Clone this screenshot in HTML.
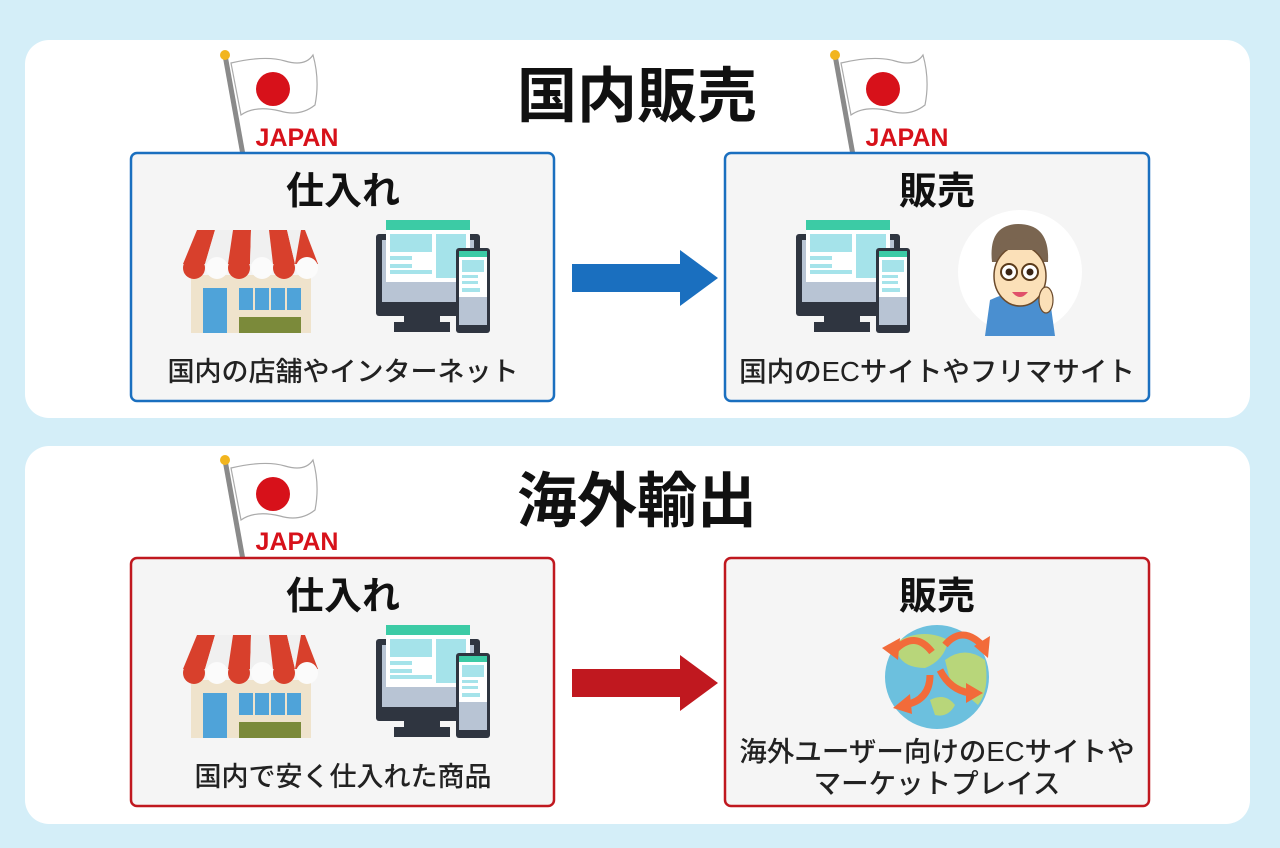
<!DOCTYPE html>
<html><head><meta charset="utf-8"><style>
html,body{margin:0;padding:0;background:#d4eef8;}
svg{display:block;}
text{font-family:"Liberation Sans","Noto Sans CJK JP",sans-serif;}
</style></head><body>
<svg width="1280" height="848" viewBox="0 0 1280 848" xmlns="http://www.w3.org/2000/svg">
<defs>
<g id="flag">
  <line x1="0" y1="0" x2="18" y2="100" stroke="#8a8a8a" stroke-width="5"/>
  <circle cx="0" cy="0" r="5" fill="#f2b51e"/>
  <path d="M6 8 Q40 0 60 6 Q80 12 88 0 Q95 25 90 50 Q75 62 55 56 Q30 50 16 60 Z" fill="#fff" stroke="#aaa" stroke-width="1.2"/>
  <circle cx="48" cy="34" r="17" fill="#d7111a"/>
</g>
<g id="shop">
  <rect x="8" y="45" width="120" height="58" fill="#efe3cc"/>
  <path d="M14 0 H32 L22 34 H0 Z" fill="#d8402c"/>
  <path d="M32 0 H50 L45 34 H22 Z" fill="#f0f0f0"/>
  <path d="M50 0 H68 L67 34 H45 Z" fill="#d8402c"/>
  <path d="M68 0 H86 L90 34 H67 Z" fill="#f0f0f0"/>
  <path d="M86 0 H104 L112 34 H90 Z" fill="#d8402c"/>
  <path d="M104 0 H122 L135 34 H112 Z" fill="#f0f0f0"/>
  <path d="M112 34 L135 34 L122 0 H118 Z" fill="#d8402c"/>
  <circle cx="11" cy="38" r="11" fill="#d8402c"/>
  <circle cx="34" cy="38" r="11" fill="#fbfbfb"/>
  <circle cx="56" cy="38" r="11" fill="#d8402c"/>
  <circle cx="79" cy="38" r="11" fill="#fbfbfb"/>
  <circle cx="101" cy="38" r="11" fill="#d8402c"/>
  <circle cx="124" cy="38" r="11" fill="#fbfbfb"/>
  <rect x="20" y="58" width="24" height="45" fill="#4fa3d9"/>
  <rect x="56" y="58" width="62" height="22" fill="#4fa3d9"/>
  <line x1="71" y1="58" x2="71" y2="80" stroke="#efe3cc" stroke-width="2"/>
  <line x1="87" y1="58" x2="87" y2="80" stroke="#efe3cc" stroke-width="2"/>
  <line x1="103" y1="58" x2="103" y2="80" stroke="#efe3cc" stroke-width="2"/>
  <rect x="56" y="87" width="62" height="16" fill="#7b8a3a"/>
</g>
<g id="pc">
  <rect x="0" y="14" width="104" height="82" rx="3" fill="#2f3540"/>
  <rect x="6" y="20" width="92" height="62" fill="#b8c4d4"/>
  <rect x="10" y="0" width="84" height="10" fill="#3ccba5"/>
  <rect x="10" y="10" width="84" height="52" fill="#fff"/>
  <rect x="14" y="14" width="42" height="18" fill="#a5e3ea"/>
  <rect x="60" y="14" width="30" height="44" fill="#a5e3ea"/>
  <rect x="14" y="36" width="22" height="4" fill="#a5e3ea"/>
  <rect x="14" y="44" width="22" height="4" fill="#a5e3ea"/>
  <rect x="14" y="50" width="42" height="4" fill="#a5e3ea"/>
  <rect x="28" y="96" width="36" height="6" fill="#2f3540"/>
  <rect x="18" y="102" width="56" height="10" fill="#2f3540"/>
  <rect x="80" y="28" width="34" height="85" rx="3" fill="#2f3540"/>
  <rect x="83" y="31" width="28" height="74" fill="#b8c4d4"/>
  <rect x="83" y="31" width="28" height="6" fill="#3ccba5"/>
  <rect x="83" y="37" width="28" height="40" fill="#fff"/>
  <rect x="86" y="40" width="22" height="12" fill="#a5e3ea"/>
  <rect x="86" y="55" width="16" height="3" fill="#a5e3ea"/>
  <rect x="86" y="61" width="16" height="3" fill="#a5e3ea"/>
  <rect x="86" y="68" width="18" height="4" fill="#a5e3ea"/>
</g>
</defs>

<rect x="25" y="40" width="1225" height="378" rx="24" fill="#fff"/>
<rect x="25" y="446" width="1225" height="378" rx="24" fill="#fff"/>

<text x="637" y="117" font-size="60" font-weight="bold" text-anchor="middle" fill="#111">国内販売</text>
<text x="637" y="522" font-size="60" font-weight="bold" text-anchor="middle" fill="#111">海外輸出</text>

<use href="#flag" transform="translate(225,55)"/>
<text x="297" y="146" font-size="25" font-weight="bold" text-anchor="middle" fill="#d7111a">JAPAN</text>
<use href="#flag" transform="translate(835,55)"/>
<text x="907" y="146" font-size="25" font-weight="bold" text-anchor="middle" fill="#d7111a">JAPAN</text>
<use href="#flag" transform="translate(225,460)"/>
<text x="297" y="550" font-size="25" font-weight="bold" text-anchor="middle" fill="#d7111a">JAPAN</text>

<rect x="131" y="153" width="423" height="248" rx="6" fill="#f5f5f5" stroke="#1a6fbf" stroke-width="2.5"/>
<rect x="725" y="153" width="424" height="248" rx="6" fill="#f5f5f5" stroke="#1a6fbf" stroke-width="2.5"/>
<rect x="131" y="558" width="423" height="248" rx="6" fill="#f5f5f5" stroke="#c0181f" stroke-width="2.5"/>
<rect x="725" y="558" width="424" height="248" rx="6" fill="#f5f5f5" stroke="#c0181f" stroke-width="2.5"/>

<text x="343" y="204" font-size="38" font-weight="bold" text-anchor="middle" fill="#111">仕入れ</text>
<text x="937" y="204" font-size="38" font-weight="bold" text-anchor="middle" fill="#111">販売</text>
<text x="343" y="609" font-size="38" font-weight="bold" text-anchor="middle" fill="#111">仕入れ</text>
<text x="937" y="609" font-size="38" font-weight="bold" text-anchor="middle" fill="#111">販売</text>

<use href="#shop" transform="translate(183,230)"/>
<use href="#pc" transform="translate(376,220)"/>
<use href="#shop" transform="translate(183,635)"/>
<use href="#pc" transform="translate(376,625)"/>
<use href="#pc" transform="translate(796,220)"/>

<circle cx="1020" cy="272" r="62" fill="#fff"/>
<path d="M990 300 Q1020 285 1050 300 L1055 336 H985 Z" fill="#4a8fd0"/>
<path d="M992 262 Q988 225 1018 224 Q1050 224 1048 262 Z" fill="#7a6550"/>
<ellipse cx="1020" cy="276" rx="26" ry="30" fill="#fbe0b8" stroke="#6b4a2b" stroke-width="1.5"/>
<path d="M995 262 Q995 238 1020 238 Q1045 238 1046 262 L1040 250 L1000 250 Z" fill="#7a6550"/>
<circle cx="1009" cy="272" r="8" fill="#fff" stroke="#5a3a1a" stroke-width="2"/>
<circle cx="1030" cy="272" r="8" fill="#fff" stroke="#5a3a1a" stroke-width="2"/>
<circle cx="1009" cy="272" r="3.5" fill="#3a2414"/>
<circle cx="1030" cy="272" r="3.5" fill="#3a2414"/>
<path d="M1012 292 Q1020 302 1028 292 Z" fill="#e0506a"/>
<ellipse cx="1046" cy="300" rx="7" ry="13" fill="#fbe0b8" stroke="#6b4a2b" stroke-width="1.2"/>

<circle cx="937" cy="677" r="52" fill="#6cc0de"/>
<path d="M900 640 Q925 628 948 640 Q945 660 925 668 Q905 668 898 655 Z" fill="#b8d67a"/>
<path d="M945 660 Q965 645 985 660 Q990 690 978 705 Q960 690 950 680 Z" fill="#b8d67a"/>
<path d="M930 700 Q945 692 955 705 Q948 718 935 715 Z" fill="#b8d67a"/>
<path d="M895 650 Q915 630 932 652" fill="none" stroke="#f26b3a" stroke-width="7"/>
<path d="M882 648 L900 638 L898 660 Z" fill="#f26b3a"/>
<path d="M945 645 Q962 625 982 645" fill="none" stroke="#f26b3a" stroke-width="7"/>
<path d="M990 636 L988 658 L974 646 Z" fill="#f26b3a"/>
<path d="M940 670 Q950 690 970 693" fill="none" stroke="#f26b3a" stroke-width="7"/>
<path d="M983 693 L966 703 L966 683 Z" fill="#f26b3a"/>
<path d="M930 675 Q930 700 905 705" fill="none" stroke="#f26b3a" stroke-width="7"/>
<path d="M893 708 L910 694 L912 714 Z" fill="#f26b3a"/>

<path d="M572 264 H680 V250 L718 278 L680 306 V292 H572 Z" fill="#1a6fbf"/>
<path d="M572 669 H680 V655 L718 683 L680 711 V697 H572 Z" fill="#c0181f"/>

<text x="343" y="381" font-size="27" font-weight="500" text-anchor="middle" fill="#222">国内の店舗やインターネット</text>
<text x="937" y="381" font-size="27.5" font-weight="500" text-anchor="middle" fill="#222">国内のECサイトやフリマサイト</text>
<text x="343" y="786" font-size="27" font-weight="500" text-anchor="middle" fill="#222">国内で安く仕入れた商品</text>
<text x="937" y="761" font-size="27.5" font-weight="500" text-anchor="middle" fill="#222">海外ユーザー向けのECサイトや</text>
<text x="937" y="793" font-size="27.5" font-weight="500" text-anchor="middle" fill="#222">マーケットプレイス</text>
</svg>
</body></html>
